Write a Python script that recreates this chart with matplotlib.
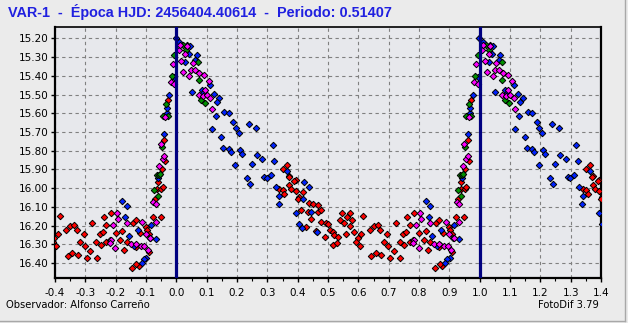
import numpy as np
import matplotlib
matplotlib.use('Agg')
import matplotlib.pyplot as plt
from matplotlib.ticker import MultipleLocator, FormatStrFormatter

# Curva de luz en fase (0..1); se repite en -1 y +1 para cubrir -0.4..1.4
fase_rojo = [0.365, 0.351, 0.373, 0.393, 0.371, 0.389, 0.340, 0.351, 0.356, 0.373,
             0.379, 0.395, 0.404, 0.419, 0.400, 0.437, 0.450, 0.466, 0.411, 0.433,
             0.466, 0.477, 0.445, 0.477, 0.428, 0.461, 0.492, 0.499, 0.505, 0.516,
             0.491, 0.521, 0.532, 0.516, 0.530, 0.547, 0.540, 0.554, 0.563, 0.573,
             0.580, 0.571, 0.558, 0.587, 0.598, 0.593, 0.604, 0.610, 0.617, 0.637,
             0.650, 0.664, 0.672, 0.643, 0.657, 0.676, 0.684, 0.698, 0.695, 0.716,
             0.705, 0.723, 0.736, 0.739, 0.747, 0.752, 0.758, 0.760, 0.769, 0.769,
             0.785, 0.780, 0.800, 0.815, 0.822, 0.829, 0.837, 0.857, 0.866, 0.868,
             0.879, 0.899, 0.903, 0.910, 0.910, 0.877, 0.868, 0.854, 0.923, 0.928,
             0.937, 0.950, 0.940, 0.953, 0.964, 0.960, 0.971, 0.955, 0.949, 0.867]
mag_rojo = [15.874, 15.900, 15.936, 15.954, 15.940, 15.963, 16.002, 16.011, 16.032, 15.984,
            16.002, 16.014, 16.046, 16.020, 16.060, 16.078, 16.085, 16.091, 16.117, 16.126,
            16.126, 16.117, 16.165, 16.180, 16.205, 16.228, 16.185, 16.192, 16.224, 16.233,
            16.260, 16.250, 16.260, 16.304, 16.295, 16.135, 16.171, 16.185, 16.153, 16.135,
            16.171, 16.203, 16.242, 16.233, 16.268, 16.286, 16.309, 16.247, 16.149, 16.224,
            16.203, 16.197, 16.224, 16.363, 16.348, 16.357, 16.286, 16.309, 16.242, 16.334,
            16.372, 16.185, 16.286, 16.372, 16.242, 16.304, 16.233, 16.153, 16.197, 16.286,
            16.132, 16.277, 16.238, 16.277, 16.229, 16.331, 16.286, 16.185, 16.171, 16.304,
            16.238, 16.206, 16.224, 16.245, 16.340, 16.416, 16.407, 16.425, 16.153, 16.055,
            16.002, 16.002, 15.966, 15.895, 15.856, 15.740, 15.527, 15.993, 16.153, 16.316]

fase_azul = [0.998, 0.010, 0.034, 0.045, 0.041, 0.030, 0.067, 0.063, 0.112, 0.052,
             0.085, 0.089, 0.125, 0.142, 0.134, 0.158, 0.172, 0.131, 0.188, 0.238,
             0.197, 0.261, 0.205, 0.118, 0.148, 0.155, 0.173, 0.180, 0.210, 0.216,
             0.195, 0.318, 0.266, 0.283, 0.250, 0.323, 0.233, 0.243, 0.290, 0.298,
             0.312, 0.329, 0.340, 0.337, 0.364, 0.422, 0.437, 0.417, 0.445, 0.393,
             0.404, 0.415, 0.463, 0.822, 0.837, 0.832, 0.844, 0.860, 0.912, 0.901,
             0.892, 0.887, 0.932, 0.916, 0.872, 0.941, 0.960, 0.968, 0.968, 0.977,
             0.993]
mag_azul = [15.196, 15.220, 15.237, 15.243, 15.282, 15.326, 15.291, 15.314, 15.451, 15.486,
            15.474, 15.492, 15.499, 15.518, 15.540, 15.593, 15.598, 15.616, 15.646, 15.659,
            15.678, 15.676, 15.705, 15.682, 15.726, 15.783, 15.792, 15.806, 15.794, 15.819,
            15.877, 15.771, 15.824, 15.845, 15.872, 15.854, 15.943, 15.979, 15.940, 15.948,
            15.931, 15.996, 16.043, 16.085, 15.908, 15.966, 15.996, 16.060, 16.126, 16.132,
            16.192, 16.210, 16.233, 16.067, 16.093, 16.153, 16.256, 16.309, 16.268, 16.370,
            16.380, 16.402, 16.272, 16.197, 16.224, 15.948, 15.708, 15.598, 15.570, 15.504,
            15.406]

fase_verde = [0.935, 0.952, 0.955, 0.971, 0.966, 0.986, 0.993, 0.927, 0.940, 0.942,
              0.945, 0.021, 0.073, 0.074, 0.082, 0.096, 0.032]
mag_verde = [15.931, 15.779, 15.616, 15.616, 15.548, 15.403, 15.291, 16.011, 16.041, 15.931,
             15.925, 15.237, 15.326, 15.420, 15.531, 15.545, 15.260]

fase_magenta = [0.944, 0.955, 0.960, 0.949, 0.964, 0.982, 0.993, 0.988, 0.924, 0.932,
                0.008, 0.030, 0.016, 0.054, 0.023, 0.043, 0.049, 0.063, 0.076, 0.092,
                0.107, 0.095, 0.074, 0.087, 0.101, 0.112, 0.118, 0.011, 0.035,
                0.804, 0.791, 0.808, 0.785, 0.780, 0.799, 0.837, 0.851, 0.888, 0.882,
                0.895, 0.899, 0.907, 0.932, 0.866, 0.914]
mag_magenta = [15.883, 15.842, 15.829, 15.765, 15.620, 15.433, 15.442, 15.335, 16.073, 16.087,
               15.260, 15.282, 15.321, 15.332, 15.380, 15.403, 15.367, 15.371, 15.385, 15.394,
               15.429, 15.474, 15.504, 15.509, 15.504, 15.516, 15.575, 15.237, 15.243,
               16.132, 16.197, 16.167, 16.277, 16.295, 16.318, 16.188, 16.299, 16.180, 16.309,
               16.309, 16.247, 16.331, 16.180, 16.300, 16.268]

series = [
    (fase_rojo, mag_rojo, '#FF0000'),
    (fase_azul, mag_azul, '#0022FF'),
    (fase_verde, mag_verde, '#009000'),
    (fase_magenta, mag_magenta, '#FF00FF'),
]

titulo = 'VAR-1  -  Época HJD: 2456404.40614  -  Periodo: 0.51407'

fig = plt.figure(figsize=(6.28, 3.23), dpi=100, facecolor='#EBEBEB')
ax = fig.add_axes([0.0876, 0.139, 0.8694, 0.777])
ax.set_facecolor('#E7E8EC')

for fase, mag, color in series:
    f = np.array(fase)
    m = np.array(mag)
    for desp in (-1, 0, 1):
        x = f + desp
        sel = (x >= -0.41) & (x <= 1.41)
        ax.plot(x[sel], m[sel], ls='none', marker='D', ms=3.3,
                mfc=color, mec='black', mew=0.7, zorder=3, clip_on=True)

# Época (fase 0 y 1)
for xv in (0.0, 1.0):
    ax.axvline(xv, color='#000080', lw=2.3, zorder=4)

ax.set_xlim(-0.4, 1.4)
ax.set_ylim(16.48, 15.14)
ax.xaxis.set_major_locator(MultipleLocator(0.1))
ax.xaxis.set_minor_locator(MultipleLocator(0.05))
ax.yaxis.set_major_locator(MultipleLocator(0.1))
ax.xaxis.set_major_formatter(FormatStrFormatter('%.1f'))
ax.yaxis.set_major_formatter(FormatStrFormatter('%.2f'))
ax.grid(True, which='major', color='#808080', ls=(0, (3, 3)), lw=0.8)
ax.set_axisbelow(True)
ax.tick_params(axis='both', which='major', direction='out', length=3, width=1,
               labelsize=7.5, pad=2, colors='black')
ax.tick_params(axis='x', which='major', pad=4)
ax.tick_params(axis='x', which='minor', direction='out', length=2, width=0.8)
for sp in ax.spines.values():
    sp.set_color('black')
    sp.set_linewidth(1.6)
ax.spines['top'].set_linewidth(1.2)

fig.text(0.013, 0.962, titulo, color='#2020E0', fontsize=10.4, fontweight='bold',
         family='Liberation Sans', ha='left', va='center')
fig.text(0.010, 0.055, 'Observador: Alfonso Carreño', fontsize=7.2, ha='left', va='center')
fig.text(0.954, 0.055, 'FotoDif 3.79', fontsize=7.2, ha='right', va='center')

# borde del panel
fig.add_artist(plt.Line2D([0.995, 0.995], [0.006, 1.0], color='#A8A8A8', lw=1,
                          transform=fig.transFigure))
fig.add_artist(plt.Line2D([0.0, 0.995], [0.006, 0.006], color='#A8A8A8', lw=1,
                          transform=fig.transFigure))

fig.savefig('out.png', dpi=100, facecolor=fig.get_facecolor())
